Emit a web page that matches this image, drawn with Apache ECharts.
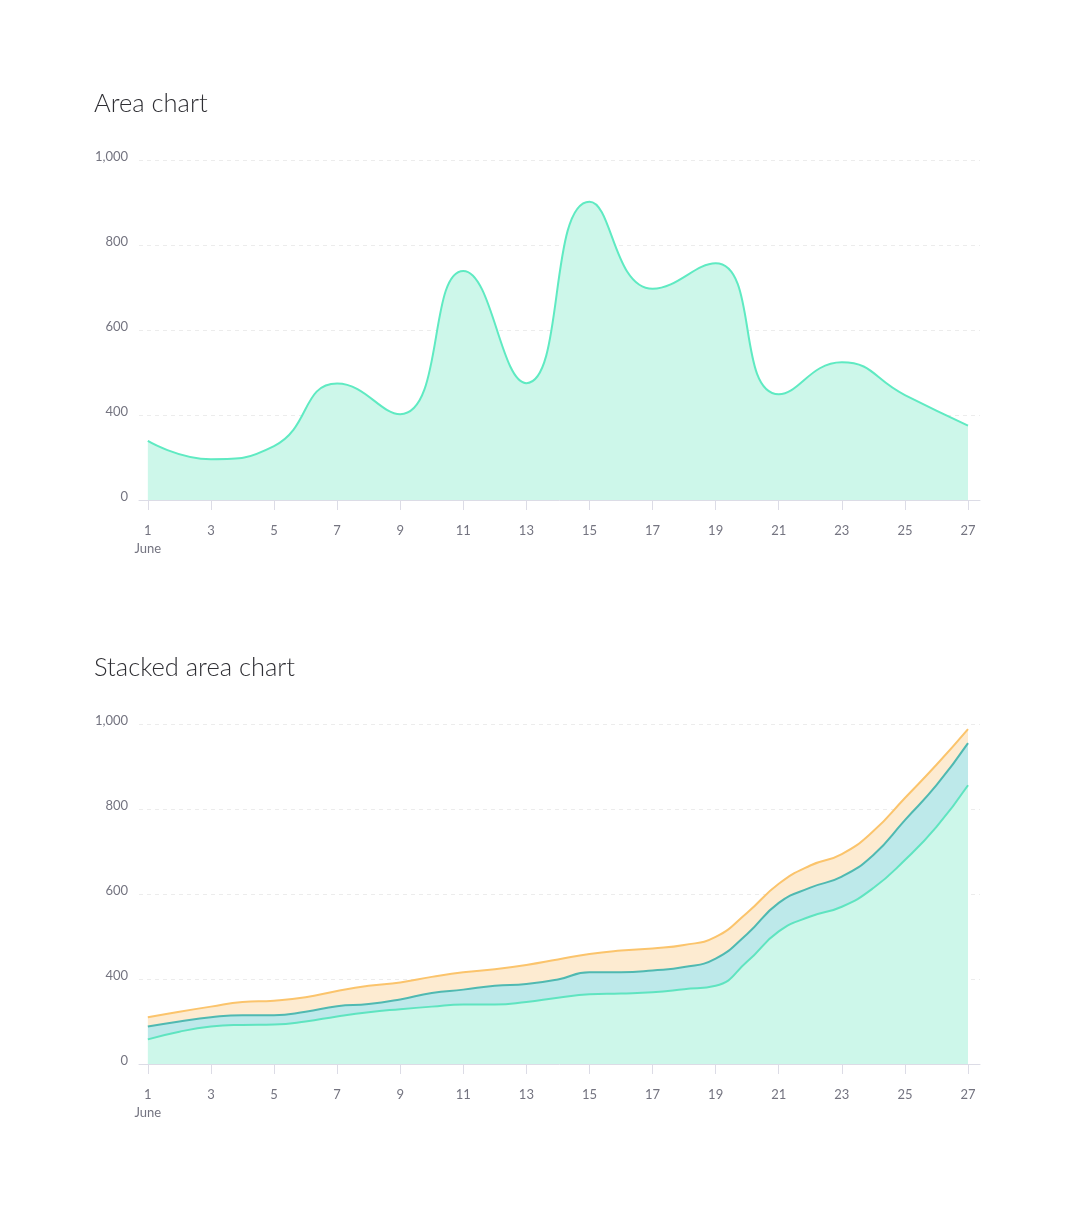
<!DOCTYPE html>
<html>
<head>
<meta charset="utf-8">
<script src="https://cdn.jsdelivr.net/npm/echarts@6/dist/echarts.min.js"></script>
<style>
  html, body { margin: 0; padding: 0; background: #fff; }
  #chart { width: 1074px; height: 1224px; }
</style>
</head>
<body>
<div id="chart"></div>
<script>
// days shown on the x axis
const tickDays = [1, 3, 5, 7, 9, 11, 13, 15, 17, 19, 21, 23, 25, 27];
const allDays = [1, 2, 3, 4, 5, 6, 7, 8, 9, 10, 11, 12, 13, 14, 15, 16, 17, 18, 19, 20, 21, 22, 23, 24, 25, 26, 27];

// area chart (one point every other day)
const areaValues = [339, 296, 327, 474, 402, 739, 475, 902, 697, 757, 449, 524, 447, 375];

// stacked area chart (daily)
const stackBottom = [258, 276, 288, 292, 293, 300, 312, 322, 329, 335, 340, 340, 346, 356, 364, 366, 369, 376, 384, 441, 512, 547, 570, 614, 680, 758, 856];
const stackMiddle = [30, 24, 22, 23, 22, 23, 24, 19, 23, 32, 35, 44, 42, 43, 52, 50, 51, 52, 64, 65, 67, 68, 71, 78, 94, 98, 99];
const stackTop = [22, 23, 25, 31, 34, 34, 36, 43, 40, 38, 41, 39, 45, 47, 43, 51, 52, 52, 51, 50, 45, 52, 53, 56, 52, 48, 33];

const yTicks = [200, 400, 600, 800, 1000]; // the lowest one is labelled "0"

// value first, day second: echarts stacks on the first numeric dimension
const pair = (xs, ys) => xs.map((x, i) => [ys[i], x]);

const chart = echarts.init(document.getElementById('chart'), null, { renderer: 'canvas' });

const axisGrey = '#dcdce6';
const labelGrey = '#747480';
const fontFamily = 'Lato, "Noto Sans", sans-serif';

function xAxis(gridIndex) {
  return {
    type: 'value',
    gridIndex,
    min: 0.72,
    max: 27.38,
    axisLine: { lineStyle: { color: axisGrey, width: 1 } },
    axisTick: { customValues: tickDays, length: 10, lineStyle: { color: axisGrey } },
    splitLine: { show: false },
    axisLabel: {
      customValues: tickDays,
      margin: 22,
      color: labelGrey,
      fontSize: 13,
      lineHeight: 18,
      fontFamily,
      formatter: v => (v === 1 ? '1\nJune' : String(v))
    }
  };
}

function yAxis(gridIndex) {
  return {
    type: 'value',
    gridIndex,
    min: yTicks[0],
    max: yTicks[yTicks.length - 1],
    interval: 200,
    axisLine: { show: false },
    axisTick: { show: false },
    splitLine: { lineStyle: { color: '#ececec', type: [4, 4] } },
    axisLabel: {
      margin: 11,
      color: labelGrey,
      fontSize: 13,
      verticalAlign: 'bottom',
      lineHeight: 6,
      fontFamily,
      formatter: v => (v === yTicks[0] ? '0' : v.toLocaleString('en-US'))
    }
  };
}

function areaSeries(name, data, idx, line, fill, stack) {
  return {
    name,
    type: 'line',
    xAxisIndex: idx,
    yAxisIndex: idx,
    data,
    encode: { x: 1, y: 0 },
    stack,
    smooth: true,
    showSymbol: false,
    lineStyle: { color: line, width: 2 },
    areaStyle: { color: fill, opacity: 1 },
    emphasis: { disabled: true }
  };
}

const titleStyle = {
  color: '#2e2e33',
  fontSize: 25.5,
  fontWeight: 300,
  fontFamily: 'Lato, "Open Sans", sans-serif'
};

chart.setOption({
  animation: false,
  title: [
    { text: 'Area chart', left: 94, top: 91, padding: 0, textStyle: titleStyle },
    { text: 'Stacked area chart', left: 94, top: 655, padding: 0, textStyle: titleStyle }
  ],
  grid: [
    { left: 139, right: 94, top: 160, height: 340 },
    { left: 139, right: 94, top: 724, height: 340 }
  ],
  xAxis: [xAxis(0), xAxis(1)],
  yAxis: [yAxis(0), yAxis(1)],
  series: [
    areaSeries('Area', pair(tickDays, areaValues), 0, '#5feac2', '#cdf7ea'),
    areaSeries('A', pair(allDays, stackBottom), 1, '#5fe4c0', '#cdf7ea', 'total'),
    areaSeries('B', pair(allDays, stackMiddle), 1, '#4fb9b1', '#bde9ea', 'total'),
    areaSeries('C', pair(allDays, stackTop), 1, '#fbc46c', '#fdebd1', 'total')
  ]
});
</script>
</body>
</html>
